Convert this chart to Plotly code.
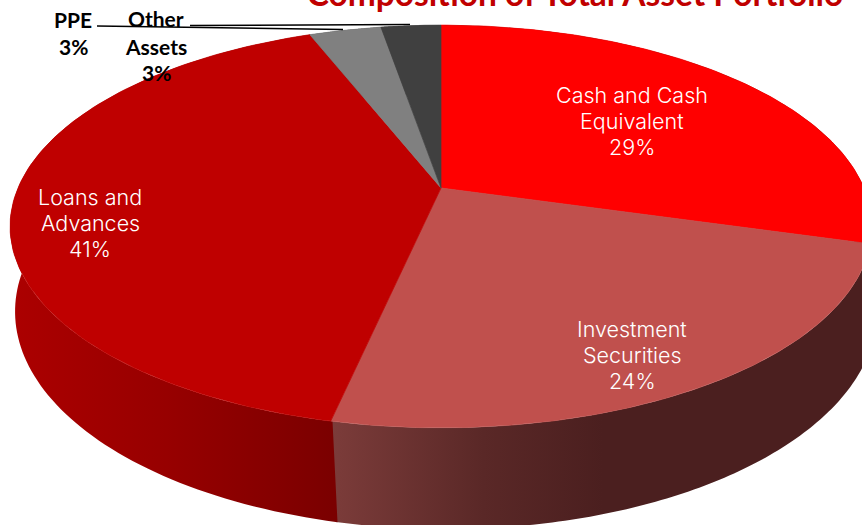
import numpy as np
import plotly.graph_objects as go

categories = ["Cash and Cash Equivalent", "Investment Securities", "Loans and Advances", "PPE", "Other Assets"]
shares = [29.4, 24.0, 40.65, 3.25, 2.7]
top_colors = ["#FF0000", "#C0504D", "#BF0000", "#808080", "#404040"]
wall_stops = [
    [[0, "#5A0000"], [1, "#5A0000"]],
    [[0, "#7C3C3A"], [0.28, "#5A2827"], [0.5, "#4B1F1F"], [1, "#4B1F1F"]],
    [[0, "#AC0000"], [0.5, "#960000"], [1, "#7A0000"]],
    [[0, "#404040"], [1, "#404040"]],
    [[0, "#202020"], [1, "#202020"]],
]

title_text = "Composition of Total Asset Portfolio"
# one entry per line of text: line, x, y
inner_labels = [
    ("Cash and Cash", 632, 95), ("Equivalent", 632, 121), ("29%", 632, 147),
    ("Investment", 632, 329), ("Securities", 632, 355), ("24%", 632, 381),
    ("Loans and", 90, 197), ("Advances", 90, 223), ("41%", 90, 249),
]
outer_labels = [
    ("PPE", 73, 19), ("3%", 73, 46),
    ("Other", 156, 18), ("Assets", 156, 46), ("3%", 156, 72),
]

# pie plane seen in perspective, hub of the pie is not the ellipse centre
HUB_X, HUB_Y = 441, 188
RX, RY, TILT = 423, 194, 0.191
DEPTH, BOTTOM_SHIFT = 82, 5


def project(angle, depth=0, shift=0):
    # angle in degrees, clockwise from 12 o'clock
    a = np.radians(angle)
    x, y = np.sin(a), np.cos(a)
    w = 1 + TILT * y
    return HUB_X + shift + RX * x / w, HUB_Y + (depth - RY * y) / w


fig = go.Figure()
edges = np.cumsum([0] + shares) * 360 / sum(shares)

# walls first, the top faces paint over the parts that are not visible
for i, name in enumerate(categories):
    arc = np.linspace(edges[i] - 0.2, edges[i + 1], 120)
    tx, ty = project(arc)
    bx, by = project(arc[::-1], DEPTH, BOTTOM_SHIFT)
    fig.add_trace(go.Scatter(
        x=np.r_[tx, bx], y=np.r_[ty, by],
        mode="none", fill="toself",
        fillgradient=dict(type="horizontal", colorscale=wall_stops[i]),
        hoverinfo="skip", showlegend=False,
    ))

for i, name in enumerate(categories):
    arc = np.linspace(edges[i], edges[i + 1], 120)
    tx, ty = project(arc)
    fig.add_trace(go.Scatter(
        x=np.r_[HUB_X, tx, HUB_X], y=np.r_[HUB_Y, ty, HUB_Y],
        mode="lines", line=dict(color=top_colors[i], width=0.7),
        fill="toself", fillcolor=top_colors[i],
        name=name, showlegend=False,
    ))

for text, x, y in inner_labels:
    fig.add_annotation(x=x, y=y, text=text, showarrow=False,
                       font=dict(family="Inter", size=21.5, color="white", weight=300))
for text, x, y in outer_labels:
    fig.add_annotation(x=x, y=y, text=text, showarrow=False,
                       font=dict(family="Lato", size=21, color="black", weight="bold"))

fig.add_shape(type="line", x0=97, y0=26, x1=343, y1=29.5, line=dict(color="black", width=1.5))
fig.add_shape(type="line", x0=190, y0=25.5, x1=410, y1=24.5, line=dict(color="black", width=1.5))

fig.update_layout(
    width=862, height=525,
    margin=dict(l=0, r=0, t=0, b=0),
    paper_bgcolor="white", plot_bgcolor="white",
    title=dict(text=title_text, x=575 / 862, xanchor="center", xref="paper",
               y=(525 - 6) / 525, yanchor="bottom", yref="container",
               font=dict(family="Lato", size=33.5, color="#C00000", weight="bold")),
)
fig.update_xaxes(range=[0, 862], visible=False)
fig.update_yaxes(range=[525, 0], visible=False)

fig.write_html("out.html", config=dict(displayModeBar=False),
               post_script="document.body.style.margin='0';")
